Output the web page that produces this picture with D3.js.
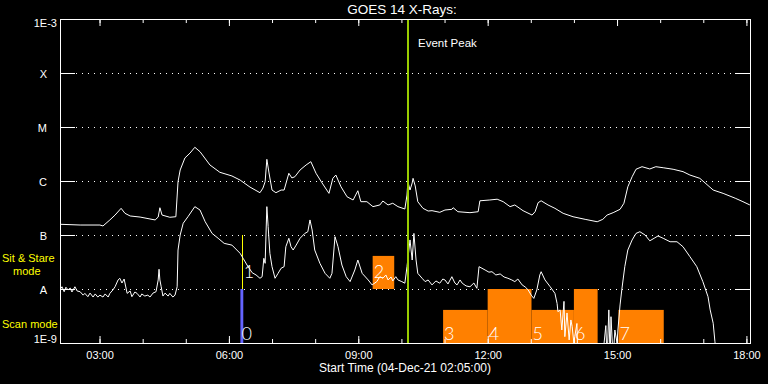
<!DOCTYPE html>
<html>
<head>
<meta charset="utf-8">
<script src="https://cdn.jsdelivr.net/npm/d3@7"></script>
<style>
  body { margin: 0; background: #000; }
  svg { display: block; }
  text { font-family: "Liberation Sans", Arial, sans-serif; fill: #fff; }
  .axis text { font-size: 11px; fill: #fff; }
  .axis line { stroke: #fff; }
  .grid line { stroke: #fff; stroke-dasharray: 1,5; }
  .mode-label { fill: #ffff00; font-size: 11px; }
  .ev-num { font-family: "Lato", "Liberation Sans", sans-serif; font-weight: 300; font-size: 18px; }
</style>
</head>
<body>
<div id="goesChart"></div>
<script>
// chart static params
const chart_width = 768;
const chart_height = 384;
const chart_title = 'GOES 14 X-Rays:';
const chart_xLabel = 'Start Time (04-Dec-21 02:05:00)';
const plot = {left: 60, right: 750, top: 19, bottom: 343};

// time window (UT hours)
const timeStart = '02:05';
const timeEnd = '18:05';
const peakTime = '10:09';

// flux levels and their labels
const levelFlux = [1e-3, 1e-4, 1e-5, 1e-6, 1e-7, 1e-8, 1e-9];
const levelLabels = ['1E-3', 'X', 'M', 'C', 'B', 'A', '1E-9'];
const gridFlux = [1e-4, 1e-5, 1e-6, 1e-7, 1e-8];

// 1-8 A channel (hours UT, W/m2)
const longTime = [2.08, 2.55, 3.01, 3.08, 3.24, 3.36, 3.50, 3.59, 3.71, 3.94, 4.17, 4.29, 4.36, 4.40, 4.45,
  4.63, 4.77, 4.82, 4.87, 4.98, 5.10, 5.21, 5.33, 5.56, 5.79, 6.07, 6.26, 6.49, 6.72, 6.79, 6.84, 6.88, 6.93,
  7.00, 7.09, 7.21, 7.28, 7.39, 7.46, 7.53, 7.65, 7.79, 7.90, 8.02, 8.16, 8.32, 8.41, 8.48, 8.60, 8.74, 8.88,
  8.99, 9.06, 9.20, 9.34, 9.50, 9.57, 9.69, 9.80, 9.92, 10.08, 10.13, 10.15, 10.20, 10.25, 10.27, 10.32, 10.38,
  10.50, 10.62, 10.71, 10.89, 11.01, 11.17, 11.20, 11.31, 11.59, 11.78, 11.82, 12.05, 12.22, 12.36, 12.52, 12.63,
  12.82, 13.03, 13.10, 13.17, 13.24, 13.40, 13.56, 13.75, 13.98, 14.26, 14.54, 14.67, 14.77, 14.91, 15.07,
  15.16, 15.25, 15.35, 15.44, 15.58, 15.76, 15.90, 16.07, 16.30, 16.53, 16.69, 16.92, 17.23, 17.46, 17.74,
  17.92, 18.08];
const longFlux = [1.58e-7, 1.53e-7, 1.53e-7, 1.47e-7, 1.90e-7, 2.34e-7, 3.12e-7, 2.52e-7, 2.25e-7, 2.15e-7,
  1.98e-7, 1.90e-7, 2.15e-7, 3.20e-7, 2.34e-7, 2.13e-7, 2.18e-7, 9.7e-7, 1.60e-6, 2.67e-6, 3.30e-6, 4.21e-6,
  3.49e-6, 1.98e-6, 1.45e-6, 1.24e-6, 1.04e-6, 7.7e-7, 6.07e-7, 7.4e-7, 9.7e-7, 2.52e-6, 1.41e-6, 6.8e-7,
  6.07e-7, 6.8e-7, 6.8e-7, 1.39e-6, 1.14e-6, 1.20e-6, 1.60e-6, 1.98e-6, 2.28e-6, 1.39e-6, 9.2e-7, 5.9e-7,
  1.12e-6, 1.29e-6, 7.8e-7, 5.1e-7, 4.45e-7, 6.6e-7, 4.14e-7, 4.14e-7, 3.35e-7, 3.6e-7, 4.26e-7, 3.6e-7,
  3.87e-7, 3.35e-7, 3.03e-7, 5.5e-7, 9.7e-7, 6.8e-7, 9.2e-7, 1.12e-6, 8.1e-7, 4.14e-7, 3.12e-7, 2.78e-7,
  2.82e-7, 2.63e-7, 2.9e-7, 2.99e-7, 3.2e-7, 2.70e-7, 2.59e-7, 2.70e-7, 4.3e-7, 4.45e-7, 4.6e-7, 4.14e-7,
  3.35e-7, 3.6e-7, 2.82e-7, 2.34e-7, 2.70e-7, 3.97e-7, 4.3e-7, 3.6e-7, 3.12e-7, 2.52e-7, 2.18e-7, 1.95e-7,
  1.76e-7, 1.95e-7, 2.34e-7, 2.59e-7, 2.99e-7, 3.87e-7, 7.8e-7, 1.20e-6, 1.65e-6, 1.84e-6, 1.67e-6, 1.84e-6,
  1.76e-6, 1.65e-6, 1.49e-6, 1.29e-6, 1.12e-6, 6.8e-7, 5.9e-7, 4.8e-7, 4.14e-7, 3.6e-7];

// 0.5-4 A channel (hours UT, W/m2); values under 1E-9 fall off the plot
const shortTime = [2.08, 2.13, 2.18, 2.22, 2.27, 2.32, 2.36, 2.43, 2.48, 2.55, 2.62, 2.66, 2.73, 2.78, 2.85,
  2.90, 2.96, 3.01, 3.08, 3.13, 3.20, 3.24, 3.31, 3.36, 3.43, 3.47, 3.52, 3.57, 3.64, 3.71, 3.75, 3.82, 3.87,
  3.94, 3.98, 4.05, 4.12, 4.17, 4.24, 4.31, 4.36, 4.38, 4.40, 4.43, 4.47, 4.52, 4.59, 4.63, 4.70, 4.75, 4.80,
  4.82, 4.87, 4.94, 5.05, 5.21, 5.33, 5.45, 5.61, 5.75, 5.89, 6.07, 6.26, 6.33, 6.42, 6.54, 6.63, 6.72, 6.77,
  6.81, 6.84, 6.88, 6.91, 6.95, 7.00, 7.07, 7.14, 7.21, 7.28, 7.32, 7.39, 7.44, 7.49, 7.56, 7.65, 7.76, 7.83,
  7.88, 7.93, 7.99, 8.11, 8.23, 8.34, 8.39, 8.46, 8.53, 8.62, 8.72, 8.81, 8.92, 8.99, 9.09, 9.23, 9.32, 9.43,
  9.50, 9.57, 9.64, 9.69, 9.76, 9.80, 9.87, 9.92, 10.01, 10.08, 10.13, 10.20, 10.25, 10.29, 10.34, 10.38,
  10.48, 10.55, 10.62, 10.71, 10.80, 10.89, 10.96, 11.01, 11.08, 11.17, 11.24, 11.29, 11.36, 11.41, 11.50,
  11.59, 11.68, 11.75, 11.80, 11.94, 12.03, 12.10, 12.19, 12.29, 12.38, 12.47, 12.56, 12.63, 12.70, 12.80,
  12.87, 12.94, 13.01, 13.07, 13.14, 13.21, 13.24, 13.33, 13.45, 13.56, 13.61, 13.63, 13.68, 13.72, 13.77,
  13.79, 13.84, 13.89, 13.93, 13.96, 14.00, 14.02, 14.07, 14.09, 14.14, 14.60, 14.70, 14.74, 14.77, 14.81,
  14.84, 14.86, 14.91, 14.95, 15.00, 15.02, 15.07, 15.11, 15.18, 15.25, 15.35, 15.44, 15.53, 15.65, 15.76,
  15.86, 15.95, 16.07, 16.23, 16.39, 16.53, 16.69, 16.85, 16.99, 17.11, 17.16, 17.23, 17.27, 17.32, 18.08];
const shortFlux = [9.6e-9, 1.10e-8, 8.9e-9, 1.08e-8, 9.6e-9, 1.04e-8, 8.8e-9, 1.10e-8, 9.2e-9, 8.9e-9,
  7.7e-9, 8.3e-9, 7.2e-9, 8.4e-9, 7.1e-9, 8.1e-9, 7.1e-9, 7.7e-9, 7.1e-9, 8.1e-9, 7.1e-9, 8.3e-9, 9.6e-9,
  1.10e-8, 1.47e-8, 1.58e-8, 1.29e-8, 1.53e-8, 8.3e-9, 9.2e-9, 7.2e-9, 8.8e-9, 8.3e-9, 7.1e-9, 8.1e-9,
  7.4e-9, 7.7e-9, 7.1e-9, 8.4e-9, 8.9e-9, 1.47e-8, 2.32e-8, 1.47e-8, 1.10e-8, 7.4e-9, 8.4e-9, 7.4e-9,
  8.3e-9, 7.1e-9, 7.7e-9, 1.10e-8, 5.27e-8, 1.0e-7, 1.65e-7, 2.18e-7, 3.35e-7, 2.9e-7, 1.76e-7, 1.07e-7,
  8.7e-8, 7.0e-8, 6.5e-8, 4.58e-8, 3.70e-8, 2.78e-8, 2.0e-8, 1.82e-8, 1.58e-8, 1.69e-8, 3.70e-8, 2.99e-8,
  3.35e-7, 1.43e-7, 4.58e-8, 2.59e-8, 1.58e-8, 1.95e-8, 2.42e-8, 2.59e-8, 6.07e-8, 8.7e-8, 6.07e-8,
  5.27e-8, 6.5e-8, 8.7e-8, 1.07e-7, 1.15e-7, 1.90e-7, 1.24e-7, 5.27e-8, 2.99e-8, 1.95e-8, 1.58e-8, 1.95e-8,
  9.3e-8, 6.07e-8, 2.78e-8, 1.69e-8, 1.37e-8, 2.25e-8, 3.44e-8, 1.95e-8, 1.47e-8, 1.19e-8, 1.37e-8,
  1.69e-8, 1.58e-8, 1.82e-8, 1.47e-8, 1.67e-8, 1.41e-8, 1.69e-8, 1.47e-8, 1.37e-8, 1.28e-8, 2.59e-8,
  8.1e-8, 3.44e-8, 1.07e-7, 3.44e-8, 1.95e-8, 1.58e-8, 1.37e-8, 1.47e-8, 1.19e-8, 1.41e-8, 1.28e-8,
  1.53e-8, 1.47e-8, 1.24e-8, 1.69e-8, 1.29e-8, 1.19e-8, 1.47e-8, 1.28e-8, 1.14e-8, 1.10e-8, 1.29e-8,
  1.03e-8, 2.59e-8, 2.25e-8, 2.05e-8, 2.09e-8, 1.82e-8, 1.90e-8, 1.67e-8, 1.58e-8, 1.47e-8, 1.37e-8,
  1.53e-8, 1.19e-8, 1.09e-8, 9.6e-9, 7.7e-9, 6.7e-9, 9.6e-9, 1.82e-8, 2.09e-8, 1.47e-8, 1.10e-8, 8.3e-9,
  5.4e-9, 3.8e-9, 4.1e-9, 1.74e-9, 5.9e-9, 1.31e-9, 3.6e-9, 1.14e-9, 2.67e-9, 2.0e-9, 1.0e-9, 1.31e-9,
  2.3e-9, 5e-10, 5e-10, 5e-10, 1.0e-9, 2.1e-9, 5e-10, 4.1e-9, 5e-10, 3.07e-9, 5e-10, 1.74e-9, 1.0e-9,
  1.74e-9, 5.06e-9, 9.6e-9, 2.59e-8, 5.27e-8, 8.1e-8, 1.07e-7, 1.15e-7, 1.0e-7, 7.8e-8, 8.7e-8, 9.6e-8,
  8.7e-8, 7.5e-8, 7.5e-8, 6.07e-8, 3.97e-8, 2.59e-8, 1.37e-8, 7.2e-9, 4.1e-9, 2.32e-9, 1.06e-9, 5e-10, 5e-10];

// observed events
const eventIds   = [0, 1, 2, 3, 4, 5, 6, 7];
const eventStart = ['06:16', '06:18', '09:20', '10:58', '12:00', '13:01', '14:00', '15:02'];
const eventEnd   = ['06:20', '06:18', '09:50', '12:00', '13:01', '14:00', '14:33', '16:05'];
const eventMode  = ['scan', 'stare', 'stare', 'scan', 'scan', 'scan', 'scan', 'scan'];
const eventTop   = [1e-8, 1e-7, 4.1e-8, 4.1e-9, 1e-8, 4.1e-9, 1e-8, 4.1e-9];
const eventColor = ['#6464ff', '#ffff00', '#ff8000', '#ff8000', '#ff8000', '#ff8000', '#ff8000', '#ff8000'];
const modeBase   = {scan: 1e-9, stare: 1e-8};

// helpers
const dayStart = Date.UTC(2021, 11, 4);
const hm = s => { const [h, m] = s.split(':').map(Number); return h + m / 60; };
const toDate = h => new Date(dayStart + h * 3600e3);

// set scales
const xScale = d3.scaleUtc()
  .domain([toDate(hm(timeStart)), toDate(hm(timeEnd))])
  .range([plot.left, plot.right]);

const yScale = d3.scaleLog()
  .domain([1e-9, 1e-3])
  .range([plot.bottom, plot.top]);

// append the svg object to the body of the page
const svg = d3.select('#goesChart')
  .append('svg')
    .attr('width', chart_width)
    .attr('height', chart_height)
    .style('background', '#000');

svg.append('clipPath').attr('id', 'plotClip')
  .append('rect')
    .attr('x', plot.left).attr('y', plot.top)
    .attr('width', plot.right - plot.left).attr('height', plot.bottom - plot.top);

// dotted grid
svg.append('g').attr('class', 'grid')
  .selectAll('line').data(gridFlux).join('line')
    .attr('x1', plot.left + 16).attr('x2', plot.right - 16)
    .attr('y1', d => Math.round(yScale(d)) + 0.5)
    .attr('y2', d => Math.round(yScale(d)) + 0.5);

// event boxes
const events = eventIds.map((id, i) => ({
  id, mode: eventMode[i], color: eventColor[i],
  t0: hm(eventStart[i]), t1: hm(eventEnd[i]), top: eventTop[i]
}));

const evG = svg.append('g').attr('clip-path', 'url(#plotClip)');
evG.selectAll('rect').data(events.filter(d => d.t1 > d.t0)).join('rect')
  .attr('x', d => xScale(toDate(d.t0)))
  .attr('width', d => xScale(toDate(d.t1)) - xScale(toDate(d.t0)))
  .attr('y', d => yScale(d.top))
  .attr('height', d => yScale(modeBase[d.mode]) - yScale(d.top))
  .attr('fill', d => d.color);

// curves
const lineGen = d3.line()
  .x(d => xScale(toDate(d[0])))
  .y(d => yScale(d[1]));

const curveG = svg.append('g').attr('clip-path', 'url(#plotClip)');
curveG.append('path')
  .datum(d3.zip(longTime, longFlux))
  .attr('d', lineGen)
  .attr('fill', 'none').attr('stroke', '#fff').attr('stroke-width', 1);
curveG.append('path')
  .datum(d3.zip(shortTime, shortFlux))
  .attr('d', lineGen)
  .attr('fill', 'none').attr('stroke', '#fff').attr('stroke-width', 1);

// zero-length events are drawn as a line
evG.selectAll('line').data(events.filter(d => d.t1 <= d.t0)).join('line')
  .attr('x1', d => Math.round(xScale(toDate(d.t0))) + 0.5)
  .attr('x2', d => Math.round(xScale(toDate(d.t0))) + 0.5)
  .attr('y1', d => yScale(d.top))
  .attr('y2', d => yScale(modeBase[d.mode]))
  .attr('stroke', d => d.color).attr('stroke-width', 1);

// event numbers
svg.append('g').selectAll('text').data(events).join('text')
  .attr('class', 'ev-num')
  .attr('x', d => xScale(toDate(d.t0)) + (d.t1 > d.t0 ? 1 : 2))
  .attr('y', d => yScale(modeBase[d.mode]) - (d.mode === 'scan' ? 3 : 11))
  .text(d => d.id);

// event peak
const peakX = Math.round(xScale(toDate(hm(peakTime))));
svg.append('line')
  .attr('x1', peakX).attr('x2', peakX)
  .attr('y1', plot.top).attr('y2', plot.bottom)
  .attr('stroke', '#99cc00').attr('stroke-width', 2);
svg.append('text')
  .attr('x', peakX + 10).attr('y', 47)
  .style('font-size', '11.5px')
  .text('Event Peak');

// time axes: major every 3h with labels, minor every hour
const majorTicks = d3.utcHour.every(3).range(toDate(3), toDate(18.5));
const minorTicks = d3.utcHour.range(toDate(3), toDate(18.5));

svg.append('g').attr('class', 'axis')
  .attr('transform', `translate(0,${plot.bottom})`)
  .call(d3.axisBottom(xScale).tickValues(majorTicks).tickSize(-7).tickSizeOuter(0)
    .tickPadding(8).tickFormat(d3.utcFormat('%H:%M')));
svg.append('g').attr('class', 'axis')
  .attr('transform', `translate(0,${plot.bottom})`)
  .call(d3.axisBottom(xScale).tickValues(minorTicks).tickSize(-4).tickSizeOuter(0).tickFormat(''));
svg.append('g').attr('class', 'axis')
  .attr('transform', `translate(0,${plot.top})`)
  .call(d3.axisTop(xScale).tickValues(majorTicks).tickSize(-7).tickSizeOuter(0).tickFormat(''));
svg.append('g').attr('class', 'axis')
  .attr('transform', `translate(0,${plot.top})`)
  .call(d3.axisTop(xScale).tickValues(minorTicks).tickSize(-4).tickSizeOuter(0).tickFormat(''));

// flux axes: long ticks on both sides
svg.append('g').attr('class', 'axis')
  .attr('transform', `translate(${plot.left},0)`)
  .call(d3.axisLeft(yScale).tickValues(gridFlux).tickSize(-15).tickSizeOuter(0).tickFormat(''));
svg.append('g').attr('class', 'axis')
  .attr('transform', `translate(${plot.right},0)`)
  .call(d3.axisRight(yScale).tickValues(gridFlux).tickSize(-15).tickSizeOuter(0).tickFormat(''));
svg.selectAll('.axis .domain').remove();

// frame
svg.append('rect')
  .attr('x', plot.left + 0.5).attr('y', plot.top + 0.5)
  .attr('width', plot.right - plot.left).attr('height', plot.bottom - plot.top)
  .attr('fill', 'none').attr('stroke', '#fff');

// flux labels
svg.append('g').selectAll('text').data(levelFlux).join('text')
  .attr('text-anchor', 'end')
  .style('font-size', '11px')
  .attr('x', (d, i) => (i === 0 || i === levelFlux.length - 1) ? 57 : 47)
  .attr('y', (d, i) => i === 0 ? yScale(d) + 8 : i === levelFlux.length - 1 ? yScale(d) : yScale(d) + 5)
  .text((d, i) => levelLabels[i]);

// mode labels
svg.append('text').attr('class', 'mode-label').attr('x', 2).attr('y', 262).text('Sit & Stare');
svg.append('text').attr('class', 'mode-label').attr('x', 13).attr('y', 275).text('mode');
svg.append('text').attr('class', 'mode-label').attr('x', 2).attr('y', 328).text('Scan mode');

// title
svg.append('text')
  .attr('text-anchor', 'middle')
  .attr('x', (plot.left + plot.right) / 2 - 3).attr('y', 14)
  .style('font-size', '13.5px')
  .text(chart_title);

// label bottom
svg.append('text')
  .attr('text-anchor', 'middle')
  .attr('x', (plot.left + plot.right) / 2).attr('y', 372)
  .style('font-size', '12px')
  .text(chart_xLabel);
</script>
</body>
</html>
